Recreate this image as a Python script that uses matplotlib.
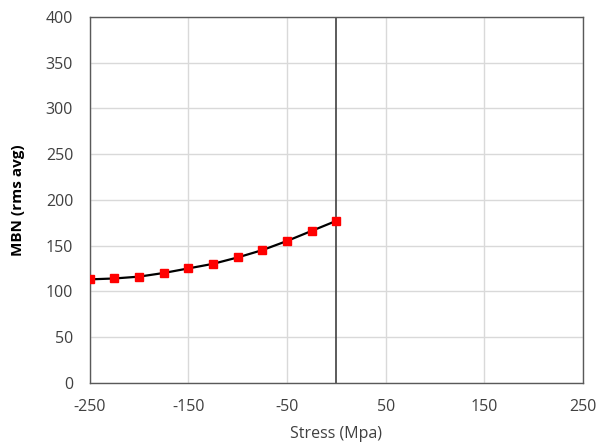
import matplotlib
matplotlib.use("Agg")
import matplotlib.pyplot as plt

# data
stress = [-250, -225, -200, -175, -150, -125, -100, -75, -50, -25, 0]
mbn = [113, 114, 116, 120, 125, 130, 137, 145, 155, 166, 177]

x_ticks = [-250, -150, -50, 50, 150, 250]
y_ticks = [0, 50, 100, 150, 200, 250, 300, 350, 400]

plt.rcParams['font.family'] = ['Open Sans', 'DejaVu Sans']
plt.rcParams['axes.unicode_minus'] = False

fig = plt.figure(figsize=(5.99, 4.44), dpi=100)
ax = fig.add_axes([0.150, 0.138, 0.823, 0.824])

ax.set_xlim(-250, 250)
ax.set_ylim(0, 400)
ax.set_xticks(x_ticks)
ax.set_yticks(y_ticks)
ax.grid(True, color='#d9d9d9', linewidth=1)
ax.set_axisbelow(True)
ax.tick_params(axis='x', length=0, labelsize=11.5, colors='#404040', pad=12)
ax.tick_params(axis='y', length=0, labelsize=11.5, colors='#404040', pad=12)

for s in ax.spines.values():
    s.set_color('#595959')
    s.set_linewidth(1)

# y axis crosses at zero
ax.axvline(0, color='#404040', linewidth=1.2, zorder=2)

ax.plot(stress, mbn, color='black', linewidth=1.6, marker='s', markersize=5.2,
        markerfacecolor='#ff0000', markeredgecolor='#ff0000', zorder=3)

ax.set_xlabel('Stress (Mpa)', fontsize=11.5, color='#404040', va='center')
ax.set_ylabel('MBN (rms avg)', fontsize=11, fontweight='bold', color='black', va='center')
ax.xaxis.set_label_coords(0.5, -0.139)
ax.yaxis.set_label_coords(-0.146, 0.5)

fig.savefig('out.png', dpi=100)
